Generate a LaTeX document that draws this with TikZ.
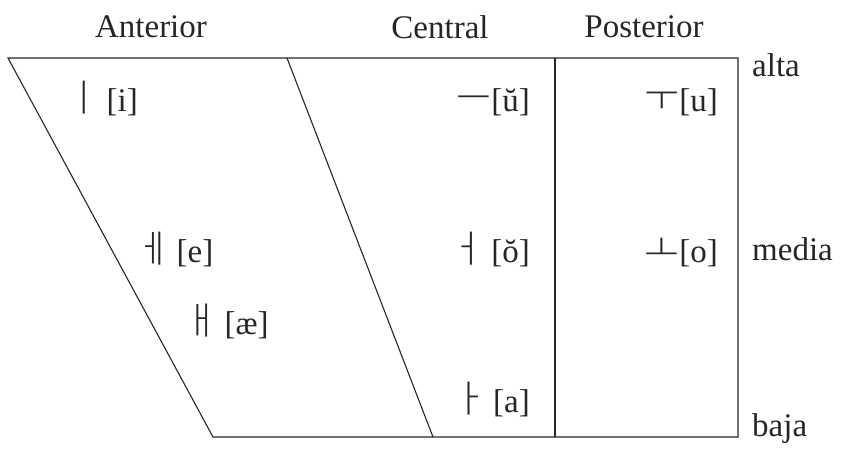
\documentclass[tikz,border=0pt]{standalone}
\usepackage{fontspec}
\setmainfont{Liberation Serif}
\newfontfamily\kr{Noto Sans CJK KR Light}
\newcommand\kj[1]{{\kr\fontsize{38}{40}\selectfont #1}}
\begin{document}
\begin{tikzpicture}[x=1pt,y=-1pt,
  frame/.style={line width=1.1pt, draw=black!85},
  head/.style={font=\fontsize{33}{36}\selectfont, text=black!85, inner sep=0pt},
  vow/.style={font=\fontsize{33}{36}\selectfont, text=black!85, inner sep=0pt}]
\useasboundingbox (0,0) rectangle (855,450);
\coordinate (tl) at (8,58);
\coordinate (tr) at (738,58);
\coordinate (bl) at (213,437);
\coordinate (br) at (738,437);
\coordinate (mt) at (287,58);
\coordinate (mb) at (433,437);
\coordinate (vt) at (555,58);
\coordinate (vb) at (555,437);
\draw[frame] (tl) -- (tr) -- (br) -- (bl) -- cycle;
\draw[frame] (mt) -- (mb);
\draw[frame] (vt) -- (vb);
% headings
\node[head] (ant) at (151,27) {Anterior};
\node[head] (cen) at (440,27) {Central};
\node[head] (pos) at (644,27) {Posterior};
\node[head, anchor=west] (alta) at (752,65) {alta};
\node[head, anchor=west] (media) at (752,249) {media};
\node[head, anchor=west] (baja) at (752,429) {baja};
% vowels
\node[vow, anchor=base west] (i) at (66,111) {\kj{ㅣ}\,[i]};
\node[vow, anchor=base east] (u1) at (530,111) {\kj{ㅡ}[ŭ]};
\node[vow, anchor=base east] (u) at (718,111) {\kj{ㅜ}[u]};
\node[vow, anchor=base west] (e) at (136,262) {\kj{ㅔ}\,[e]};
\node[vow, anchor=base east] (o1) at (530,262) {\kj{ㅓ}\,[ŏ]};
\node[vow, anchor=base east] (o) at (718,262) {\kj{ㅗ}[o]};
\node[vow, anchor=base west] (ae) at (184,334) {\kj{ㅐ}\,[æ]};
\node[vow, anchor=base east] (a) at (530,412) {\kj{ㅏ}\,[a]};
\end{tikzpicture}
\end{document}
